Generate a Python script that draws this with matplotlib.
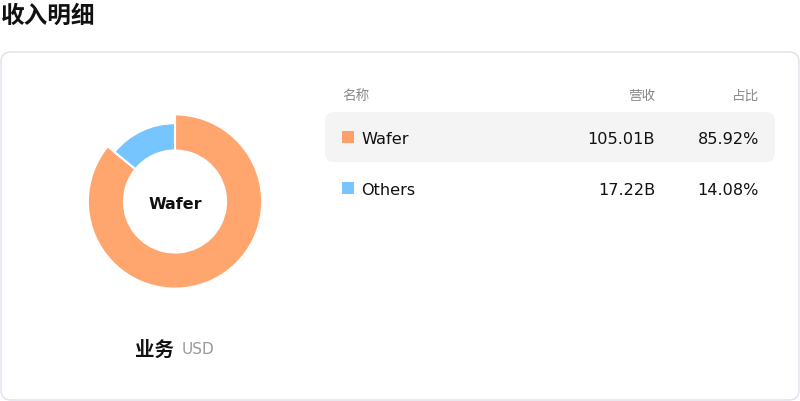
import matplotlib
matplotlib.use("Agg")
import matplotlib.pyplot as plt
from matplotlib.patches import FancyBboxPatch, Rectangle

plt.rcParams['font.family'] = ['DejaVu Sans', 'Noto Sans CJK SC']

# data
names = ["Wafer", "Others"]
revenue = [105.01, 17.22]          # B USD
share = [85.92, 14.08]             # %
colors = ["#FFA66F", "#76C5FF"]
square_colors = ["#FF9F6C", "#76C5FF"]

fig = plt.figure(figsize=(8.0, 4.02), dpi=100)

# background axes in pixel coordinates
bg = fig.add_axes([0, 0, 1, 1])
bg.set_xlim(0, 800)
bg.set_ylim(402, 0)
bg.axis('off')

bg.text(1, 16, "收入明细", fontsize=17, fontweight='bold', va='center', ha='left', color='#111111')

card = FancyBboxPatch((1, 53), 798, 348, boxstyle="round,pad=0,rounding_size=10",
                      facecolor='white', edgecolor='#E0DFEA', linewidth=1)
bg.add_patch(card)

# table header
bg.text(342, 96, "名称", fontsize=9.8, color='#888888', va='center', ha='left')
bg.text(655, 96, "营收", fontsize=9.8, color='#888888', va='center', ha='right')
bg.text(759, 96, "占比", fontsize=9.8, color='#888888', va='center', ha='right')

# highlighted first row
bg.add_patch(FancyBboxPatch((325, 113), 450, 50, boxstyle="round,pad=0,rounding_size=9",
                            facecolor='#F4F4F4', edgecolor='none'))

row_y = [138, 189]
for i, name in enumerate(names):
    y = row_y[i]
    bg.add_patch(Rectangle((342, y - 6), 12, 12, facecolor=square_colors[i], edgecolor='none'))
    bg.text(361, y + 1.5, name, fontsize=11.6, color='#111111', va='center', ha='left')
    bg.text(655, y + 1.5, f"{revenue[i]:.2f}B", fontsize=11.6, color='#111111', va='center', ha='right')
    bg.text(759, y + 1.5, f"{share[i]:.2f}%", fontsize=11.6, color='#111111', va='center', ha='right')

# bottom caption
bg.text(174, 350, "业务", fontsize=14, fontweight='bold', color='#111111', va='center', ha='right')
bg.text(182, 350, "USD", fontsize=11, color='#999999', va='center', ha='left')

# donut (the selected slice "Wafer" is drawn larger)
cx, cy, r = 175, 202.5, 88
pie_ax = fig.add_axes([(cx - r) / 800, (402 - cy - r) / 402, 2 * r / 800, 2 * r / 402])
wedges, _ = pie_ax.pie(revenue, colors=colors, startangle=90, counterclock=False, radius=0.99,
                       wedgeprops=dict(width=0.41, edgecolor='white', linewidth=1.5))
wedges[1].set_radius(0.89)
wedges[1].set_width(0.31)
pie_ax.set_xlim(-1, 1)
pie_ax.set_ylim(-1, 1)
pie_ax.set_aspect('auto')
pie_ax.axis('off')
pie_ax.text(0, -0.02, "Wafer", fontsize=11.5, fontweight='bold', ha='center', va='center', color='#111111')

fig.savefig("out.png", dpi=100)
